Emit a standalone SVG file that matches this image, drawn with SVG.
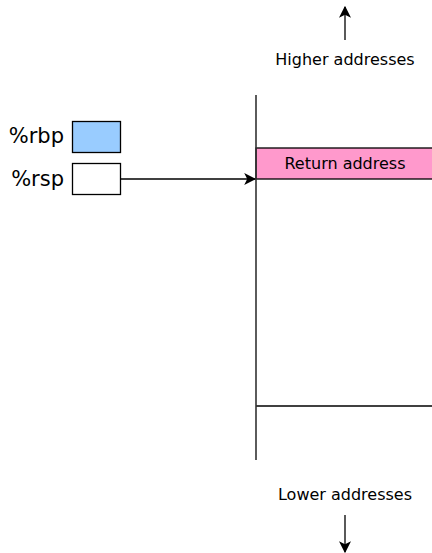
<svg xmlns="http://www.w3.org/2000/svg" width="432" height="553" viewBox="0 0 432 553">
<style>
text{font-family:"DejaVu Sans",sans-serif;fill:#000}
.lbl{font-size:16px;text-anchor:middle}
.reg{font-size:21px;text-anchor:end}
.ln{stroke:#000;stroke-width:1.3;fill:none}
.box{stroke:#000;stroke-width:1.3}
</style>
<defs>
<marker id="ah" viewBox="0 0 10 10" refX="9" refY="5" markerWidth="12" markerHeight="12" markerUnits="userSpaceOnUse" orient="auto">
<path d="M0,0 L10,5 L0,10 L2.5,5 Z" fill="#000"/>
</marker>
</defs>
<g id="stack">
<rect x="256" y="148" width="180" height="31" fill="#ff99cc" class="box"/>
<text class="lbl" x="345" y="169">Return address</text>
<line x1="256" y1="406" x2="432" y2="406" class="ln"/>
<line x1="256" y1="95" x2="256" y2="460" stroke="#333" stroke-width="1.6"/>
</g>
<g id="rbp">
<text class="reg" x="64" y="143">%rbp</text>
<rect x="72.5" y="121.5" width="48" height="31" fill="#99ccff" class="box"/>
</g>
<g id="rsp">
<text class="reg" x="64" y="186">%rsp</text>
<rect x="72.5" y="163.5" width="48" height="31" fill="#fff" class="box"/>
</g>
<g id="higher">
<text class="lbl" x="345" y="65">Higher addresses</text>
</g>
<g id="lower">
<text class="lbl" x="345" y="500">Lower addresses</text>
</g>
<g id="connectors">
<line x1="121" y1="179" x2="255" y2="179" class="ln" marker-end="url(#ah)"/>
<line x1="345" y1="40" x2="345" y2="7" class="ln" marker-end="url(#ah)"/>
<line x1="345" y1="515" x2="345" y2="552" class="ln" marker-end="url(#ah)"/>
</g>
</svg>
